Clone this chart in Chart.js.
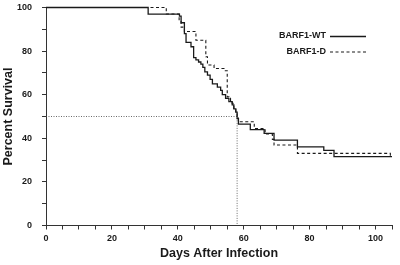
<!DOCTYPE html>
<html lang="en">
<head>
  <meta charset="UTF-8" />
  <title>Percent Survival</title>
  <script src="https://cdn.jsdelivr.net/npm/chart.js"></script>
  <style>
    html, body { margin: 0; padding: 0; background: #fff; }
    #wrap { width: 400px; height: 265px; }
  </style>
</head>
<body>
  <div id="wrap"><canvas id="survChart"></canvas></div>

  <script>
    // Kaplan-Meier steps (day of event, percent surviving after it)
    const wtDays = [0, 31, 40.5, 41, 42, 42.5, 44, 44.8, 45.5, 46.3, 47, 47.6, 48.2, 49, 49.8, 50.5, 52, 53, 53.5, 54.5, 55.5, 56.5, 57, 57.6, 58, 58.4, 62, 66.2, 69.2, 76.3, 84.3, 87.4, 105];
    const wtSurvival = [100, 97, 96, 93, 88, 84, 82, 77, 76, 75, 74, 72.5, 70.5, 69, 67, 65, 63.5, 62, 60, 58.3, 56.8, 55.3, 53.5, 52, 49, 46.5, 44, 42.3, 39.2, 36.1, 34.5, 31.6, 31.6];

    const dDays = [0, 36.5, 40.4, 41, 42, 45.5, 48.5, 49, 51, 54, 55, 55.5, 56, 56.5, 57, 57.6, 58, 58.4, 63.2, 66.5, 68.7, 69.2, 76.3, 104.5, 105];
    const dSurvival = [100, 97, 94, 91, 89, 85, 77.4, 73.6, 72, 71, 59, 58.3, 56.8, 56, 53.7, 52.2, 50, 47.6, 44.5, 42, 39.5, 36.9, 33.1, 32, 32];

    // median survival guide
    const medianDay = 58;
    const medianPct = 50;

    const seriesNames = ['BARF1-WT', 'BARF1-D'];

    const toPoints = (xs, ys) => xs.map((x, i) => ({ x: x, y: ys[i] }));

    const ink = '#1a1a1a';

    // legend drawn like the original: label text, then a line sample to its right
    const sideLegend = {
      id: 'sideLegend',
      afterDatasetsDraw(chart) {
        const ctx = chart.ctx;
        ctx.save();
        ctx.font = 'bold 9px "Liberation Sans", Arial, sans-serif';
        ctx.fillStyle = ink;
        ctx.textAlign = 'right';
        ctx.textBaseline = 'middle';
        [0, 1].forEach((i, r) => {
          const ds = chart.data.datasets[i];
          const y = 36 + r * 15.5;
          ctx.fillText(ds.label, 326, y);
          ctx.beginPath();
          ctx.strokeStyle = ds.borderColor;
          ctx.lineWidth = ds.borderWidth;
          ctx.setLineDash(ds.borderDash || []);
          ctx.moveTo(330, y + 0.5);
          ctx.lineTo(366, y + 0.5);
          ctx.stroke();
        });
        ctx.restore();
      }
    };

    const tickFont = { family: '"Liberation Sans", Arial, sans-serif', size: 9, weight: 'bold' };
    const titleFont = { family: '"Liberation Sans", Arial, sans-serif', size: 12.5, weight: 'bold' };

    new Chart(document.getElementById('survChart'), {
      type: 'line',
      data: {
        datasets: [
          {
            label: seriesNames[0],
            data: toPoints(wtDays, wtSurvival),
            stepped: 'before',
            borderColor: ink,
            borderWidth: 1.3,
            pointRadius: 0,
            fill: false,
            clip: 3
          },
          {
            label: seriesNames[1],
            data: toPoints(dDays, dSurvival),
            stepped: 'before',
            borderColor: ink,
            borderWidth: 1.1,
            borderDash: [3, 2.5],
            pointRadius: 0,
            fill: false,
            clip: 3
          },
          {
            label: 'median',
            data: [{ x: 0, y: medianPct }, { x: medianDay, y: medianPct }, { x: medianDay, y: 0 }],
            borderColor: '#444',
            borderWidth: 0.8,
            borderDash: [1, 1.5],
            pointRadius: 0,
            fill: false
          }
        ]
      },
      options: {
        responsive: true,
        maintainAspectRatio: false,
        animation: false,
        layout: { padding: { top: 7.5, right: 8, left: 0, bottom: 0 } },
        plugins: {
          legend: { display: false },
          tooltip: { enabled: false }
        },
        scales: {
          x: {
            type: 'linear',
            min: 0,
            max: 105,
            afterFit(s) { s.height = 39.5; s.paddingLeft = 0; s.paddingRight = 0; },
            ticks: {
              stepSize: 5,
              autoSkip: false,
              maxRotation: 0,
              padding: 4,
              color: ink,
              font: tickFont,
              callback: v => (v % 20 === 0 ? v : '')
            },
            grid: { drawOnChartArea: false, drawTicks: true, tickLength: 4, color: '#333' },
            border: { display: true, color: '#333', width: 1 },
            title: {
              display: true,
              text: 'Days After Infection',
              color: ink,
              font: titleFont,
              padding: { top: 0, bottom: 4 }
            }
          },
          y: {
            min: 0,
            max: 100,
            afterFit(s) { s.width = 46; s.paddingTop = 0; s.paddingBottom = 0; },
            ticks: {
              stepSize: 10,
              autoSkip: false,
              padding: 10,
              color: ink,
              font: tickFont,
              callback: v => (v % 20 === 0 ? v : '')
            },
            grid: { drawOnChartArea: false, drawTicks: true, tickLength: 4, color: '#333' },
            border: { display: true, color: '#333', width: 1 },
            title: {
              display: true,
              text: 'Percent Survival',
              color: ink,
              font: titleFont,
              padding: { top: 1, bottom: 0 }
            }
          }
        }
      },
      plugins: [sideLegend]
    });
  </script>
</body>
</html>
